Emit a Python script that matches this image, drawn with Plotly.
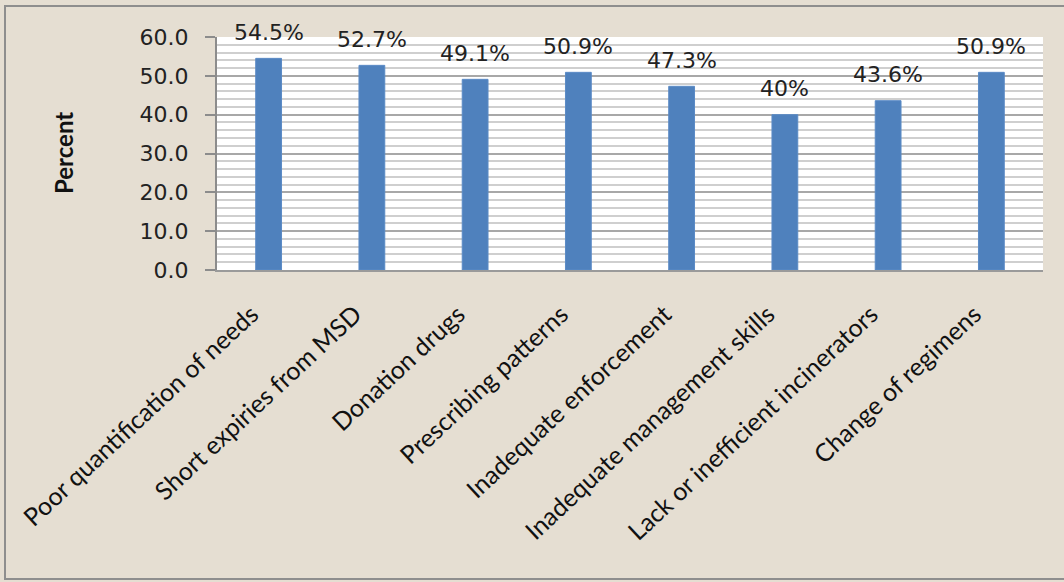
import plotly.graph_objects as go

categories = [
    "Poor quantification of needs",
    "Short expiries from MSD",
    "Donation drugs",
    "Prescribing patterns",
    "Inadequate enforcement",
    "Inadequate management skills",
    "Lack or inefficient incinerators",
    "Change of regimens",
]
percent_values = [54.5, 52.7, 49.1, 50.9, 47.3, 40.0, 43.6, 50.9]
value_labels = ["54.5%", "52.7%", "49.1%", "50.9%", "47.3%", "40%", "43.6%", "50.9%"]
y_ticks = [0, 10, 20, 30, 40, 50, 60]
y_tick_labels = ["0.0", "10.0", "20.0", "30.0", "40.0", "50.0", "60.0"]

W, H = 1064, 582
ML, MR, MT, MB = 217, 21, 37, 312
PW, PH = W - ML - MR, H - MT - MB

def px_x(p):
    return (p - ML) / PW

def px_y(p):
    return (H - MB - p) / PH

BG = "#E5DED2"
BAR = "#4F81BD"

fig = go.Figure()
fig.add_trace(go.Bar(
    x=categories,
    y=percent_values,
    marker=dict(color=BAR, line=dict(color="#5B8BC6", width=1)),
    width=0.25,
    hoverinfo="x+y",
))

annotations = []
for c, v, t in zip(categories, percent_values, value_labels):
    annotations.append(dict(
        x=c, y=v, text=t, showarrow=False, yanchor="middle", yshift=26,
        font=dict(family="DejaVu Sans", size=22, color="#222222"),
    ))
annotations.append(dict(
    xref="paper", yref="paper", x=px_x(63), y=px_y(153), text="<b>Percent</b>",
    textangle=-90, showarrow=False, xanchor="center", yanchor="middle",
    font=dict(family="Lato", size=24, color="#111111"),
))

fig.update_layout(
    width=W, height=H,
    margin=dict(l=ML, r=MR, t=MT, b=MB, autoexpand=False),
    paper_bgcolor=BG,
    plot_bgcolor="white",
    showlegend=False,
    annotations=annotations,
    shapes=[
        dict(type="rect", xref="paper", yref="paper",
             x0=px_x(5), x1=px_x(1070), y0=px_y(579), y1=px_y(6),
             line=dict(color="#8E8E8E", width=2), fillcolor="rgba(0,0,0,0)", layer="below"),
    ],
    xaxis=dict(
        tickangle=-43,
        tickfont=dict(family="Lato", size=25, color="#111111"),
        ticklabelstandoff=18, ticklabelshift=-17,
        showline=True, linecolor="#9A9A9A", linewidth=2,
        showgrid=False, ticks="", automargin=False,
    ),
    yaxis=dict(
        range=[0, 60],
        tickvals=y_ticks, ticktext=y_tick_labels,
        tickfont=dict(family="DejaVu Sans", size=22, color="#222222"),
        ticklabelstandoff=12,
        showline=True, linecolor="#8C8C8C", linewidth=2,
        ticks="outside", ticklen=10, tickcolor="#8C8C8C", tickwidth=2,
        showgrid=True, gridcolor="#A8A8A8", gridwidth=2,
        minor=dict(dtick=2, showgrid=True, gridcolor="#CFCFCF", gridwidth=2),
        zeroline=False, automargin=False,
    ),
)

fig.write_html(
    "out.html",
    config={"displayModeBar": False},
    post_script="document.body.style.margin='0';document.body.style.overflow='hidden';",
)
